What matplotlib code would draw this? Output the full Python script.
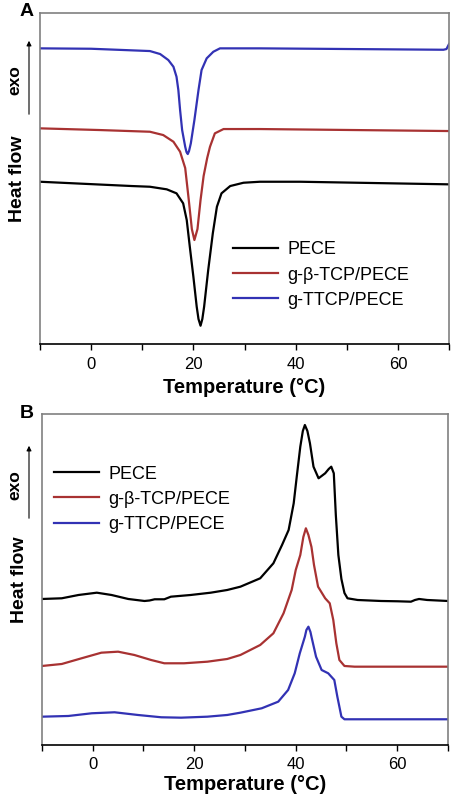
import matplotlib
matplotlib.use("Agg")
import matplotlib.pyplot as plt

plt.rcParams['font.family'] = ['Liberation Sans', 'DejaVu Sans']

# ---- Panel A: cooling (crystallization) curves, heat flow in a.u. ----
a_pece_x = [-10, 1.7, 8, 11.5, 14.8, 16.7, 18.0, 18.7, 19.3, 20.0, 20.65, 21.0, 21.4, 21.75, 22.1,
            22.9, 23.8, 24.6, 25.5, 27.2, 29.8, 33.0, 40.9, 70]
a_pece_y = [162.3, 159.5, 158, 157.3, 154.7, 150.7, 140.7, 124, 97.3, 67.3, 37.3, 25, 18.3, 25, 37.3,
            74, 110.7, 137.3, 150.7, 158, 161.3, 162.3, 162.3, 159.7]

a_btcp_x = [-10, 1.7, 11.5, 14.1, 16.1, 17.4, 18.4, 19.1, 19.7, 20.2, 20.8, 21.4, 22.0, 22.7,
            23.25, 24.2, 25.9, 33.0, 70]
a_btcp_y = [215.7, 214, 212.3, 209, 202.3, 192.3, 176, 144, 115, 104, 115, 144, 168, 186,
            197.3, 210.7, 215, 215, 213]

a_ttcp_x = [-10, 0, 11.5, 13.5, 15.1, 16.1, 16.7, 17.06, 17.4, 17.8, 18.4, 18.65, 18.9, 19.15,
            19.5, 20.2, 21.0, 21.6, 22.6, 23.9, 25.2, 33.0, 68.9, 69.5, 70]
a_ttcp_y = [295.7, 295.3, 293, 290, 284, 277.3, 267.3, 254, 234, 214, 197.3, 192, 190, 193,
            200.7, 224, 254, 274, 285.7, 292.3, 295.7, 295.7, 294.3, 295, 300]

# ---- Panel B: heating (melting) curves ----
b_pece_x = [-10, -6.1, -2.8, 0.8, 3.7, 7.0, 10.2, 11.2, 12.2, 14.1, 15.4, 19.3, 23.25, 26.5, 29.1,
            33.0, 35.6, 37.3, 38.6, 39.6, 40.2, 40.9, 41.4, 41.8, 42.3, 42.8, 43.5, 44.5, 45.8,
            46.5, 47.0, 47.5, 47.9, 48.4, 49.0, 49.6, 50.2, 52.2, 56.8, 60.1, 62.7, 63.5, 64.3,
            65.9, 70]
b_pece_y = [146, 146.7, 150, 152.3, 150, 146, 144, 144.5, 145.7, 145.7, 148.3, 150, 152.3, 155, 158.3,
            166.7, 181.7, 200, 215, 241.7, 268.3, 298.3, 314, 320, 314, 301.7, 278.3, 266.7, 271.7,
            276, 278.3, 271.7, 230, 190, 166, 152, 146.7, 145, 144, 143.7, 143.3, 145, 146,
            145, 144]

b_btcp_x = [-10, -6.1, -2.2, 1.7, 5.0, 8.2, 11.5, 14.1, 18.0, 22.6, 26.5, 29.1, 33.0, 35.6,
            37.6, 39.2, 40.0, 40.9, 41.5, 42.0, 42.5, 43.1, 43.6, 44.4, 45.8, 46.7, 47.4, 48.0,
            48.6, 49.6, 51.6, 70]
b_btcp_y = [79, 81, 86.7, 92.3, 93.3, 90, 85, 81.7, 81.7, 83.3, 86, 90, 100, 111.7,
            131.7, 155, 175, 190, 208, 216.7, 210, 198, 180, 158.3, 146.7, 141.7, 125, 101.7,
            85, 79, 78.3, 78.3]

b_ttcp_x = [-10, -4.8, -0.2, 4.3, 8.9, 13.5, 17.4, 22.6, 26.5, 29.1, 33.3, 36.55, 38.5, 39.8,
            40.8, 41.8, 42.1, 42.5, 42.9, 43.1, 44.0, 45.1, 46.4, 47.6, 48.2, 49.0, 49.6, 54.5, 70]
b_ttcp_y = [28.3, 29, 31.7, 32.7, 30, 27.7, 27.3, 28.3, 30, 32.3, 36.7, 43.3, 55, 71.7,
            91.7, 108.3, 115, 118.3, 113, 108.3, 88.3, 75, 71.7, 65, 48.3, 28.3, 25.7, 25.7, 25.7]

labels = ["PECE", "g-\u03b2-TCP/PECE", "g-TTCP/PECE"]
colors = ["#000000", "#a83232", "#3232b4"]

fig = plt.figure(figsize=(4.52, 7.96), dpi=100)
axA = fig.add_axes([0.0885, 0.5678, 0.9049, 0.4158])
axB = fig.add_axes([0.0929, 0.0641, 0.8982, 0.4158])

panels = [
    (axA, [(a_pece_x, a_pece_y), (a_btcp_x, a_btcp_y), (a_ttcp_x, a_ttcp_y)], (0.472, 0.31), 5),
    (axB, [(b_pece_x, b_pece_y), (b_btcp_x, b_btcp_y), (b_ttcp_x, b_ttcp_y)], (0.03, 0.844), 1.5),
]

for ax, series, leg_pos, xpad in panels:
    for (x, y), lab, c in zip(series, labels, colors):
        ax.plot(x, y, color=c, lw=1.6, label=lab, solid_joinstyle='round')
    ax.set_xlim(-10, 70)
    ax.set_ylim(0, 331)
    ax.set_xticks(range(-10, 71, 10))
    ax.set_xticklabels(["" if t % 20 else str(t) for t in range(-10, 71, 10)])
    ax.set_yticks([])
    ax.tick_params(axis='x', direction='out', length=4, width=1, labelsize=12, pad=5)
    for s in ['left', 'top', 'right']:
        ax.spines[s].set_color('#808080')
        ax.spines[s].set_linewidth(1.2)
    ax.spines['bottom'].set_linewidth(1.2)
    ax.set_xlabel("Temperature (\u00b0C)", fontsize=14.5, fontweight='bold', labelpad=xpad)
    ax.set_ylabel("Heat flow", fontsize=14, fontweight='bold', labelpad=10)
    ax.legend(loc='upper left', bbox_to_anchor=leg_pos, frameon=False, fontsize=13,
              handlelength=2.5, handletextpad=0.5, labelspacing=0.45, borderpad=0,
              borderaxespad=0)

# panel letters
fig.text(27 / 452, 1 - 11 / 796, "A", fontsize=14, fontweight='bold', ha='center', va='center')
fig.text(27 / 452, 1 - 414 / 796, "B", fontsize=14, fontweight='bold', ha='center', va='center')

# exo arrows
for y_txt, y0, y1 in [(80, 117, 38), (485, 521, 443)]:
    fig.text(15 / 452, 1 - y_txt / 796, "exo", fontsize=12.5, fontweight='bold',
             rotation=90, ha='center', va='center')
    fig.add_artist(matplotlib.patches.FancyArrowPatch(
        (29 / 452, 1 - y0 / 796), (29 / 452, 1 - y1 / 796), transform=fig.transFigure,
        arrowstyle='-|>', mutation_scale=7, lw=0.8, color='black'))

plt.savefig("out.png", dpi=100)
